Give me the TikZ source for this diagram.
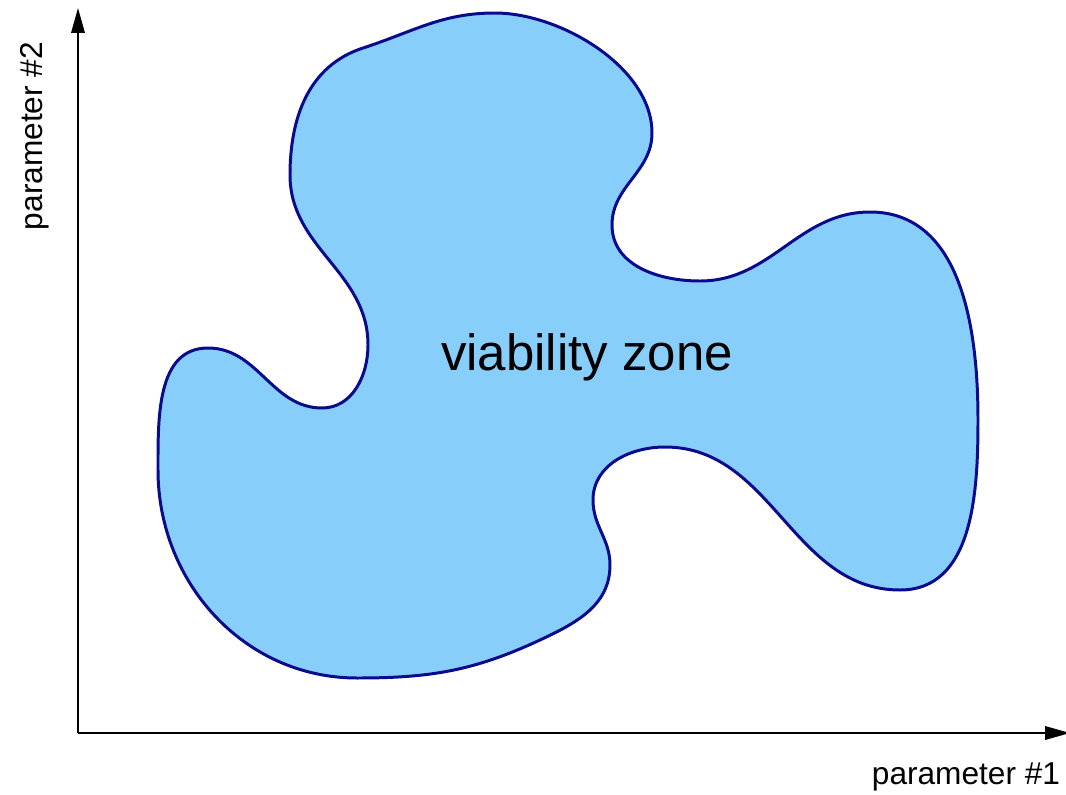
\documentclass[tikz,border=0pt]{standalone}
\usepackage{fontspec}
\setmainfont{Liberation Sans}
\usetikzlibrary{arrows.meta}
\definecolor{sky}{RGB}{135,206,250}
\definecolor{deepblue}{RGB}{10,10,140}
\tikzset{
  >={Triangle[length=0.5cm,width=0.27cm]},
  axis/.style={->,line width=1.1pt,draw=black},
  zone/.style={fill=sky,draw=deepblue,line width=1.7pt},
  axlabel/.style={font=\fontsize{18}{21}\selectfont,text=black},
  zonelabel/.style={font=\fontsize{29}{34}\selectfont,text=black},
}

\begin{document}
\begin{tikzpicture}[x=0.02cm,y=-0.02cm]
  \useasboundingbox (0,0) rectangle (1066,795);
  % axes
  \coordinate (origin) at (78,733);
  \coordinate (xend) at (1070,733);
  \coordinate (yend) at (78,8);
  \draw[axis] (origin) -- (xend);
  \draw[axis] (origin) -- (yend);
  % viability zone
  \draw[zone] (363,48)
    to[out=18,in=180] (495,13)
    to[out=0,in=90,looseness=0.85] (652,133)
    to[out=-90,in=90] (612,225)
    to[out=-90,in=180] (700,281)
    to[out=0,in=180] (870,212)
    to[out=0,in=90] (978,420)
    to[out=-90,in=0] (900,590)
    to[out=180,in=0] (665,447)
    to[out=180,in=90] (593,500)
    to[out=-90,in=90] (610,565)
    to[out=-90,in=25] (540,640)
    to[out=205,in=0] (357,678)
    to[out=180,in=-90] (158,470)
    to[out=90,in=180] (208,348)
    to[out=0,in=180] (322,408)
    to[out=0,in=-90] (368,345)
    to[out=90,in=-90] (290,175)
    to[out=90,in=198] cycle;
  \node[zonelabel] (zone) at (587,357) {viability zone};
  \node[axlabel] (xlabel) at (966,777) {parameter \#1};
  \node[axlabel,rotate=90] (ylabel) at (35,136) {parameter \#2};
\end{tikzpicture}
\end{document}
